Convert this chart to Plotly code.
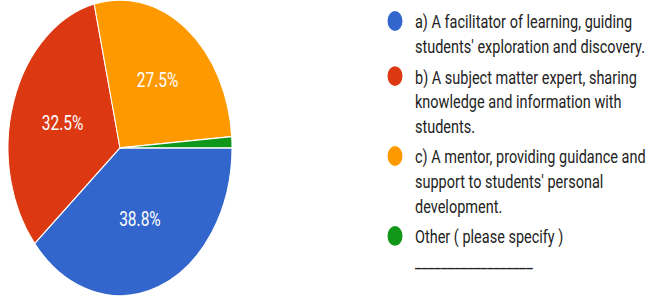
import plotly.graph_objects as go

# ---- data ----
categories = [
    "a) A facilitator of learning, guiding<br>students' exploration and discovery.",
    "b) A subject matter expert, sharing<br>knowledge and information with<br>students.",
    "c) A mentor, providing guidance and<br>support to students' personal<br>development.",
    "Other ( please specify )<br>__________________",
]
values = [38.8, 32.5, 27.5, 1.2]
slice_labels = ["%{percent:.1%}", "%{percent:.1%}", "%{percent:.1%}", ""]
colors = ["#3366cc", "#dc3912", "#ff9900", "#109618"]

W, H = 659, 224
STRETCH = 1.32  # the reference image is vertically stretched

fig = go.Figure()
fig.add_trace(go.Pie(
    labels=categories,
    values=values,
    marker=dict(colors=colors, line=dict(color="white", width=1)),
    sort=False,
    direction="clockwise",
    rotation=90,
    texttemplate=slice_labels,
    textposition="inside",
    insidetextorientation="horizontal",
    insidetextfont=dict(family="Roboto", size=15.5, color="white"),
    showlegend=False,
    hoverinfo="skip",
    domain=dict(x=[8 / W, 232 / W], y=[0, 1]),
))

# legend entries (circle symbols)
for i, (name, c) in enumerate(zip(categories, colors)):
    fig.add_trace(go.Scatter(
        x=[None], y=[None], mode="markers", name=name,
        marker=dict(color=c, size=15, symbol="circle"),
        legendgroup=f"g{i}", showlegend=True, hoverinfo="skip",
    ))

fig.update_layout(
    width=W, height=H,
    margin=dict(l=0, r=0, t=0, b=0),
    paper_bgcolor="white", plot_bgcolor="white",
    font=dict(family="Roboto", size=14.5, color="#222222"),
    xaxis=dict(visible=False), yaxis=dict(visible=False),
    legend=dict(
        x=375 / W, xanchor="left", y=1, yanchor="top",
        valign="top", tracegroupgap=1,
        font=dict(family="Roboto", size=14.5, color="#222222"),
        bgcolor="rgba(0,0,0,0)",
    ),
)

js = """
var gd = document.getElementById('{plot_id}');
document.body.style.margin = '0';
gd.style.transformOrigin = '0 0';
gd.style.transform = 'scaleY(%s)';
""" % STRETCH

fig.write_html("out.html", config={"displayModeBar": False}, post_script=js)
